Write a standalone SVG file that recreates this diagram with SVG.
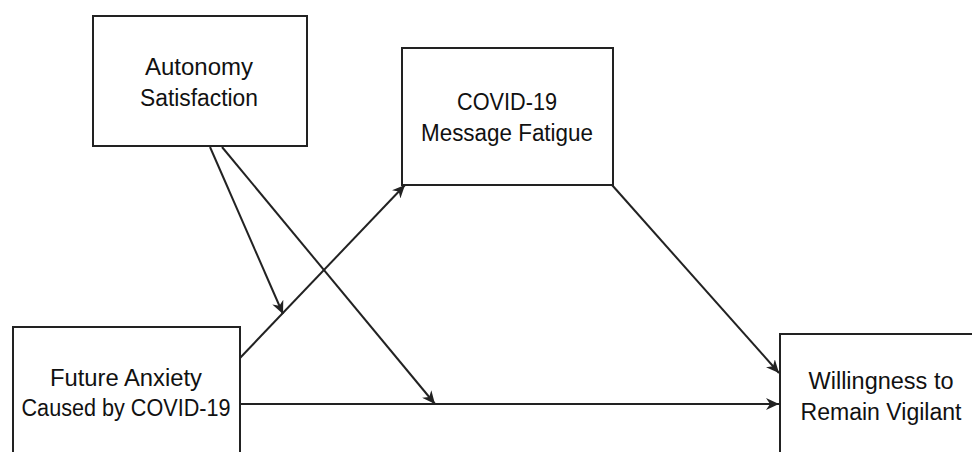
<svg xmlns="http://www.w3.org/2000/svg" width="972" height="452" viewBox="0 0 972 452">
<style>
.box{fill:#fff;stroke:#222;stroke-width:2}
.lbl{font-family:"Liberation Sans",Arial,sans-serif;font-size:23px;fill:#111;text-anchor:middle}
.edge{stroke:#222;stroke-width:2;fill:none;marker-end:url(#ah)}
</style>
<defs>
<marker id="ah" markerUnits="userSpaceOnUse" markerWidth="14" markerHeight="12" refX="13" refY="6" orient="auto">
<path d="M0,0 L13,6 L0,12 L4,6 z" fill="#222"/>
</marker>
</defs>
<rect width="972" height="452" fill="#fff"/>
<g id="connectors">
<line class="edge" x1="210" y1="147" x2="283" y2="314"/>
<line class="edge" x1="222" y1="147" x2="435" y2="404"/>
<line class="edge" x1="240" y1="358" x2="405" y2="185"/>
<line class="edge" x1="612" y1="185" x2="779" y2="373"/>
<line class="edge" x1="240" y1="404" x2="779" y2="404"/>
</g>
<g id="autonomy">
<rect class="box" x="93" y="16" width="214" height="130"/>
<text class="lbl" x="199" y="75" textLength="108" lengthAdjust="spacingAndGlyphs">Autonomy</text>
<text class="lbl" x="199" y="106" textLength="118" lengthAdjust="spacingAndGlyphs">Satisfaction</text>
</g>
<g id="fatigue">
<rect class="box" x="402" y="48" width="211" height="137"/>
<text class="lbl" x="507" y="110" textLength="100" lengthAdjust="spacingAndGlyphs">COVID-19</text>
<text class="lbl" x="507" y="141" textLength="172" lengthAdjust="spacingAndGlyphs">Message Fatigue</text>
</g>
<g id="anxiety">
<rect class="box" x="13" y="327" width="227" height="140"/>
<text class="lbl" x="126" y="386" textLength="152" lengthAdjust="spacingAndGlyphs">Future Anxiety</text>
<text class="lbl" x="126" y="416" textLength="209" lengthAdjust="spacingAndGlyphs">Caused by COVID-19</text>
</g>
<g id="vigilant">
<rect class="box" x="780" y="334" width="200" height="140"/>
<text class="lbl" x="881" y="389" textLength="145" lengthAdjust="spacingAndGlyphs">Willingness to</text>
<text class="lbl" x="881" y="420" textLength="161" lengthAdjust="spacingAndGlyphs">Remain Vigilant</text>
</g>
</svg>
